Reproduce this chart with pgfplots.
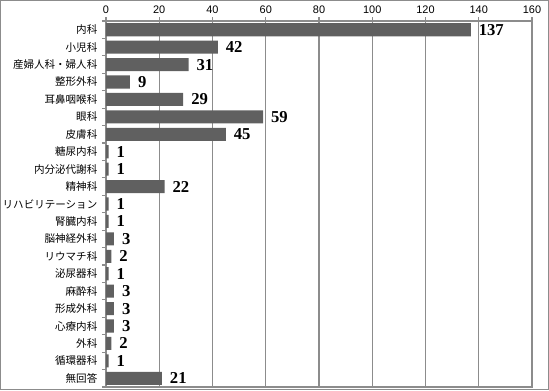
\documentclass[border=0pt]{standalone}
\usepackage{pgfplots}
\pgfplotsset{compat=1.18}
\usepackage{fontspec}
\setmainfont{Liberation Sans}
\newfontfamily\cjk{Noto Sans CJK JP}
\newfontfamily\valfont{Liberation Serif}
\definecolor{barc}{HTML}{606060}
\definecolor{gridc}{HTML}{8C8C8C}
\begin{document}
\begin{tikzpicture}[x=1pt,y=1pt]
\useasboundingbox (-79.5,-2.25) rectangle (332.25,290.25);
\draw[gridc,line width=0.9pt] (-79.05,-1.8) rectangle (331.8,289.8);
\begin{axis}[
  at={(0,0)}, anchor=south west,
  scale only axis,
  width=319.5pt, height=274.5pt,
  xbar, bar width=9.8pt,
  xmin=0, xmax=160,
  xtick={0,20,...,160},
  minor xtick={0,20,...,160},
  xtick pos=upper, xticklabel pos=upper,
  ymin=-0.5, ymax=20.5,
  y dir=reverse,
  ytick={0,...,20},
  yticklabels={内科,小児科,産婦人科・婦人科,整形外科,耳鼻咽喉科,眼科,皮膚科,糖尿内科,内分泌代謝科,精神科,リハビリテーション,腎臓内科,脳神経外科,リウマチ科,泌尿器科,麻酔科,形成外科,心療内科,外科,循環器科,無回答},
  yticklabel style={font=\cjk\fontsize{7.9}{8}\selectfont, xshift=-3pt},
  minor ytick={-0.5,0.5,...,20.5},
  ytick pos=left,
  tick align=outside,
  major tick length=0pt,
  minor tick length=3pt,
  tick style={gridc, line width=0.8pt},
  xmajorgrids,
  grid style={gridc, line width=0.8pt},
  axis line style={gridc, line width=0.8pt},
  xticklabel style={font=\fontsize{8.2}{9}\selectfont, yshift=2pt},
  /pgf/number format/assume math mode=true,
  nodes near coords,
  nodes near coords style={font=\valfont\bfseries\fontsize{12.5}{13}\selectfont, anchor=west, xshift=2.5pt},
]
\addplot[fill=barc, draw=none] coordinates {
(137,0) (42,1) (31,2) (9,3) (29,4) (59,5) (45,6) (1,7) (1,8) (22,9) (1,10) (1,11) (3,12) (2,13) (1,14) (3,15) (3,16) (3,17) (2,18) (1,19) (21,20)
};
\end{axis}
\end{tikzpicture}
\end{document}
